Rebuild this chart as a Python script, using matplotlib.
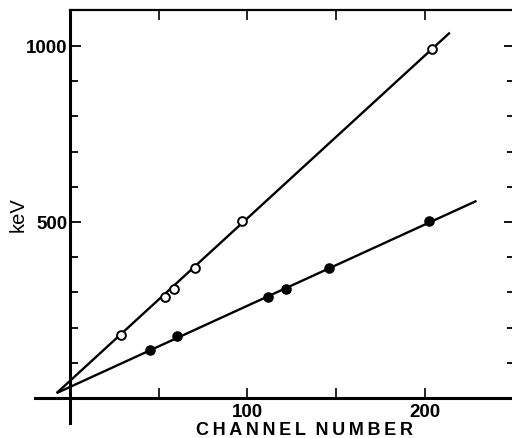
import matplotlib
matplotlib.use("Agg")
import matplotlib.pyplot as plt
from matplotlib.ticker import FixedLocator

# Data
open_ch = [28.7, 53.5, 58.6, 70.4, 97.0, 203.8]
open_kev = [178, 288, 309, 369, 503, 991]
filled_ch = [44.9, 60.5, 111.6, 121.9, 145.7, 202.2]
filled_kev = [136, 177, 288, 311, 370, 503]
# calibration lines (endpoints)
upper_line_ch = [-7.5, 214]
upper_line_kev = [14, 1038]
lower_line_ch = [-7.5, 229]
lower_line_kev = [14, 560]

x_ticks = [50, 100, 150, 200]
x_labels = ["", "100", "", "200"]
y_major = [500, 1000]
y_labels = ["500", "1000"]
y_minor = [100, 200, 300, 400, 600, 700, 800, 900]

fig = plt.figure(figsize=(5.12, 4.38), dpi=100)
ax = fig.add_axes([0, 0, 1, 1])
ax.set_facecolor("white")

ax.plot(upper_line_ch, upper_line_kev, color="black", lw=1.7, solid_capstyle="butt", zorder=2)
ax.plot(lower_line_ch, lower_line_kev, color="black", lw=1.7, solid_capstyle="butt", zorder=2)
ax.plot(open_ch, open_kev, "o", ms=6.3, mfc="white", mec="black", mew=1.4, zorder=3)
ax.plot(filled_ch, filled_kev, "o", ms=6.6, mfc="black", mec="black", mew=1.0, zorder=3)

ax.set_xlim(-39.4, 249.0)
ax.set_ylim(-113.6, 1130.7)

for s in ("left", "bottom", "top", "right"):
    ax.spines[s].set_color("black")
ax.spines["left"].set_position(("data", 0))
ax.spines["left"].set_bounds(-71, 1102)
ax.spines["left"].set_linewidth(2.2)
ax.spines["bottom"].set_position(("data", 0))
ax.spines["bottom"].set_bounds(-19.7, 249)
ax.spines["bottom"].set_linewidth(2.2)
ax.spines["top"].set_position(("data", 1102))
ax.spines["top"].set_bounds(0, 249)
ax.spines["top"].set_linewidth(1.6)
ax.spines["right"].set_position(("axes", 1.006))
ax.spines["right"].set_visible(False)

font = "Liberation Sans"
ax.xaxis.set_major_locator(FixedLocator(x_ticks))
ax.set_xticklabels(x_labels, fontfamily=font, fontweight="bold", fontsize=13.5)
ax.tick_params(axis="x", which="major", direction="in", length=7, width=1.2,
               top=True, bottom=True, pad=4)
ax.yaxis.set_major_locator(FixedLocator(y_major))
ax.yaxis.set_minor_locator(FixedLocator(y_minor))
ax.set_yticklabels(y_labels, fontfamily=font, fontweight="bold", fontsize=13.5)
ax.tick_params(axis="y", which="major", direction="in", length=8, width=1.3,
               left=True, right=True, pad=2)
ax.tick_params(axis="y", which="minor", direction="in", length=5.5, width=1.3,
               left=True, right=True)

xlabel = "\u2009".join("CHANNEL") + "  " + "\u2009".join("NUMBER")
ax.text(71.0, -116, xlabel,
        fontfamily=[font, "DejaVu Sans"], fontweight="bold", fontsize=13,
        ha="left", va="bottom")
ax.text(-29.0, 520, "keV", rotation=90, fontfamily=font, fontsize=14.5,
        ha="center", va="center")

fig.savefig("out.png", dpi=100, facecolor="white")
